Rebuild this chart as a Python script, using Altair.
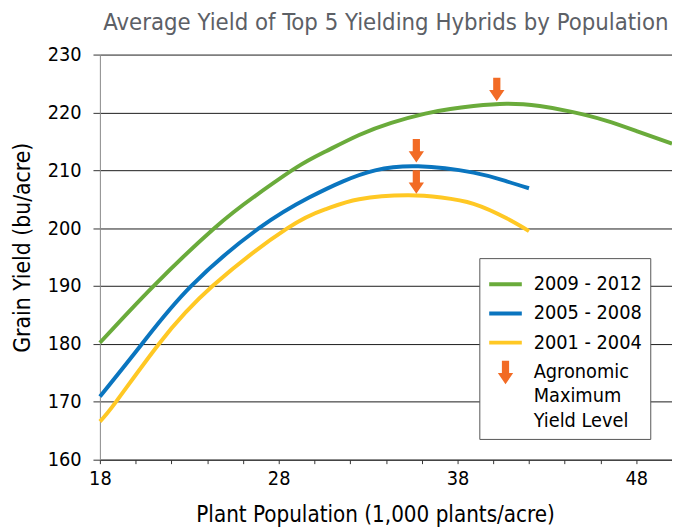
import altair as alt
import pandas as pd

# ---- data ----
series_names = ["2009 - 2012", "2005 - 2008", "2001 - 2004"]
marker_name = "Agronomic Maximum Yield Level"

green_x = [18, 21.0, 24.4, 26.7, 29.0, 30.65, 32.5, 34.3, 36.2, 37.6, 38.9, 40.75, 42.6, 44.4, 46.3, 48.1, 50]
green_y = [180.2, 190, 200, 205.6, 210.5, 213.3, 216.1, 218.2, 219.8, 220.6, 221.1, 221.5, 221.1, 220.1, 218.6, 216.7, 214.6]

blue_x = [18, 20.35, 23.1, 26.9, 29.7, 31.6, 33.4, 35.8, 38.9, 40.75, 42]
blue_y = [170.9, 180, 190, 200, 205.3, 208.1, 210.0, 210.7, 209.6, 208.1, 206.9]

yellow_x = [18, 18.9, 21.3, 24.3, 28.5, 30.65, 32.5, 35.2, 37.1, 38.9, 40.75, 42]
yellow_y = [166.6, 170, 180, 190, 200, 203.3, 205.0, 205.7, 205.3, 204.2, 201.7, 199.5]

arrow_x = [40.2, 35.7, 35.7]
arrow_y = [224.1, 213.5, 208.1]

series_colors = ["#6aab3b", "#0a75bf", "#ffc824"]
marker_color = "#f26b25"

x_ticks = list(range(18, 51, 2))
y_ticks = list(range(160, 231, 10))

# ---- tables ----
rows = []
for name, xs, ys in zip(series_names, [green_x, blue_x, yellow_x], [green_y, blue_y, yellow_y]):
    for xv, yv in zip(xs, ys):
        rows.append({"pop": xv, "yield": yv, "series": name})
lines_df = pd.DataFrame(rows)
arrows_df = pd.DataFrame({"pop": arrow_x, "yield": arrow_y, "series": [marker_name] * len(arrow_x)})

FONT = "DejaVu Sans Condensed, DejaVu Sans"
# arrow drawn inside the unit symbol box; a 4px outline is added by the stroke
arrow_path = "M-0.1,-0.55L0.1,-0.55L0.1,0.2L0.24,0.2L0,0.55L-0.24,0.2L-0.1,0.2Z"

all_names = series_names + [marker_name]
color_scale = alt.Scale(domain=all_names, range=series_colors + [marker_color])
shape_scale = alt.Scale(domain=all_names, range=["stroke", "stroke", "stroke", arrow_path])

legend = alt.Legend(
    title=None,
    orient="none",
    legendX=384,
    legendY=206,
    strokeColor="#555555",
    fillColor="white",
    padding=8,
    labelFont=FONT,
    labelFontSize=20,
    labelColor="black",
    labelOffset=10,
    rowPadding=0.5,
    symbolSize=1089,
    symbolStrokeWidth=4,
    symbolOpacity=1,
    labelOverlap=False,
    labelExpr=f"datum.label === '{marker_name}' ? ['Agronomic', 'Maximum', 'Yield Level'] : datum.label",
)

x_axis = alt.Axis(
    values=x_ticks,
    labelExpr="(datum.value - 18) % 10 === 0 ? datum.label : ''",
    labelOverlap=False,
    title="Plant Population (1,000 plants/acre)",
    grid=False,
    tickSize=4,
    tickColor="#333333",
    domainColor="#333333",
    labelPadding=5,
    labelFont=FONT,
    labelFontSize=20,
    labelColor="black",
    labelFlush=False,
    titleFont=FONT,
    titleFontSize=22.5,
    titleFontWeight="normal",
    titleColor="black",
    titleX=278.5,
    titleY=56,
    titleBaseline="middle",
)
y_axis = alt.Axis(
    values=y_ticks,
    title="Grain Yield (bu/acre)",
    grid=True,
    gridColor="#1a1a1a",
    gridWidth=1,
    gridOpacity=1,
    tickSize=7,
    tickColor="#333333",
    domainColor="#888888",
    labelPadding=12,
    labelFont=FONT,
    labelFontSize=20,
    labelColor="black",
    labelOverlap=False,
    titleFont=FONT,
    titleFontSize=23,
    titleFontWeight="normal",
    titleColor="black",
    titleX=-78,
    titleY=195,
    titleBaseline="middle",
    titleAlign="center",
)
x_scale = alt.Scale(domain=[18, 50], nice=False, zero=False)
y_scale = alt.Scale(domain=[160, 230], nice=False, zero=False)

lines = alt.Chart(lines_df).mark_line(strokeWidth=4, interpolate="natural").encode(
    x=alt.X("pop:Q", scale=x_scale, axis=x_axis),
    y=alt.Y("yield:Q", scale=y_scale, axis=y_axis),
    color=alt.Color("series:N", scale=color_scale, legend=legend),
    detail="series:N",
)

arrows = alt.Chart(arrows_df).mark_point(
    filled=True, size=1089, opacity=1, strokeWidth=4, strokeJoin="miter"
).encode(
    x=alt.X("pop:Q", scale=x_scale, axis=x_axis),
    y=alt.Y("yield:Q", scale=y_scale, axis=y_axis),
    color=alt.Color("series:N", scale=color_scale, legend=legend),
    stroke=alt.Stroke("series:N", scale=color_scale, legend=legend),
    shape=alt.Shape("series:N", scale=shape_scale, legend=legend),
)

chart = (
    alt.layer(lines, arrows)
    .properties(
        width=579,
        height=410,
        padding={"left": 93, "top": 44, "right": 0, "bottom": 66},
        autosize=alt.AutoSizeParams(type="none"),
        title=alt.TitleParams(
            "Average Yield of Top 5 Yielding Hybrids by Population",
            font=FONT,
            fontSize=24,
            fontWeight="normal",
            color="#5c6066",
            anchor="middle",
            baseline="alphabetic",
            offset=13,
            dy=22,
        ),
    )
    .configure(style={"guide-label": {"lineHeight": 25}})
    .configure_view(strokeWidth=0)
)

chart.save("out.html", embed_options={"renderer": "svg", "actions": False})
